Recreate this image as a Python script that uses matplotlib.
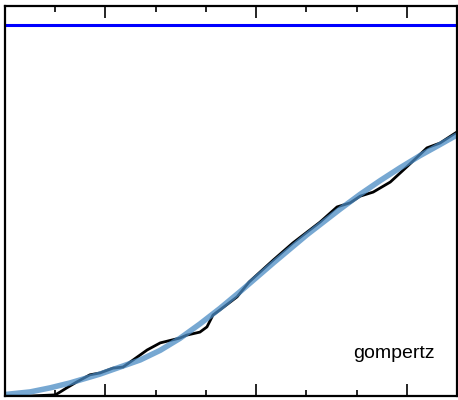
import matplotlib
matplotlib.use("Agg")
import matplotlib.pyplot as plt

# observed (noisy) series
x_obs = [0.0, 0.50, 1.0, 1.10, 1.23, 1.43, 1.69, 1.89, 2.15, 2.35, 2.55, 2.83,
         3.09, 3.48, 3.62, 3.88, 4.02, 4.14, 4.28, 4.62, 4.86, 5.34, 5.73,
         6.27, 6.61, 6.87, 7.07, 7.33, 7.67, 8.00, 8.40, 8.66, 9.0]
y_obs = [0.0, 0.0, 0.003, 0.011, 0.022, 0.038, 0.057, 0.062, 0.075, 0.078,
         0.097, 0.124, 0.143, 0.156, 0.164, 0.172, 0.186, 0.218, 0.232, 0.267,
         0.307, 0.366, 0.412, 0.468, 0.509, 0.520, 0.538, 0.549, 0.576, 0.617,
         0.668, 0.681, 0.711]

# fitted gompertz curve
x_fit = [0.0, 0.5, 0.9, 1.29, 1.89, 2.29, 2.69, 3.09, 3.48, 3.88, 4.28, 4.68,
         5.34, 6.01, 6.67, 7.07, 7.47, 7.86, 8.26, 8.66, 9.0]
y_fit = [0.004, 0.011, 0.022, 0.035, 0.059, 0.078, 0.097, 0.123, 0.155, 0.194,
         0.236, 0.281, 0.358, 0.434, 0.503, 0.543, 0.580, 0.614, 0.647, 0.677,
         0.703]

asymptote = 1.0
label = "gompertz"

fig = plt.figure(figsize=(4.58, 4.0), dpi=100)
ax = fig.add_axes([0.011, 0.01, 0.987, 0.975])

ax.plot(x_obs, y_obs, color="black", lw=2.0)
ax.plot(x_fit, y_fit, color="#4a8bc4", lw=4.0, alpha=0.75, solid_capstyle="butt")
ax.axhline(asymptote, color="#0000ff", lw=2.2)

ax.set_xlim(0, 9)
ax.set_ylim(0, 1.05)

ax.set_xticks([2, 5, 8])
ax.set_xticks([1, 3, 4, 6, 7], minor=True)
ax.set_yticks([])
ax.tick_params(axis="x", which="both", direction="in", top=True, bottom=True,
               labelbottom=False, width=1.2)
ax.tick_params(axis="x", which="major", length=8.5)
ax.tick_params(axis="x", which="minor", length=4.3)

for s in ax.spines.values():
    s.set_linewidth(1.6)

# label in the lower right corner
ax.text(0.95, 0.11, label, transform=ax.transAxes, ha="right", va="center",
        fontsize=14, family="Liberation Sans")

fig.savefig("out.png", dpi=100)
